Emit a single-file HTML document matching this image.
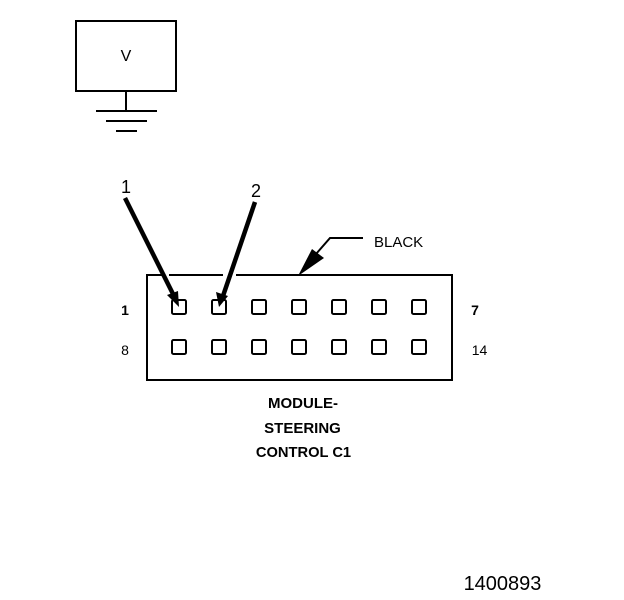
<!DOCTYPE html>
<html>
<head>
<meta charset="utf-8">
<style>
html,body{margin:0;padding:0;background:#fff;}
svg{display:block;}
text{font-family:"Liberation Sans",sans-serif;fill:#000;}
</style>
</head>
<body>
<svg width="624" height="600" viewBox="0 0 624 600" xmlns="http://www.w3.org/2000/svg">
<rect width="624" height="600" fill="#fff"/>
<g fill="none" stroke="#000" stroke-width="2" shape-rendering="crispEdges">
<rect x="76" y="21" width="100" height="70"/>
<line x1="126" y1="91" x2="126" y2="111"/>
<line x1="96" y1="111" x2="157" y2="111"/>
<line x1="106" y1="121" x2="147" y2="121"/>
<line x1="116" y1="131" x2="137" y2="131"/>
<path d="M165 275H146M147 275V380M146 380H453M452 381V274M453 275H236M223 275H169"/>
</g>
<g fill="#fff" stroke="#000" stroke-width="2">
<rect x="172" y="300" width="14" height="14" rx="1.5"/>
<rect x="212" y="300" width="14" height="14" rx="1.5"/>
<rect x="252" y="300" width="14" height="14" rx="1.5"/>
<rect x="292" y="300" width="14" height="14" rx="1.5"/>
<rect x="332" y="300" width="14" height="14" rx="1.5"/>
<rect x="372" y="300" width="14" height="14" rx="1.5"/>
<rect x="412" y="300" width="14" height="14" rx="1.5"/>
<rect x="172" y="340" width="14" height="14" rx="1.5"/>
<rect x="212" y="340" width="14" height="14" rx="1.5"/>
<rect x="252" y="340" width="14" height="14" rx="1.5"/>
<rect x="292" y="340" width="14" height="14" rx="1.5"/>
<rect x="332" y="340" width="14" height="14" rx="1.5"/>
<rect x="372" y="340" width="14" height="14" rx="1.5"/>
<rect x="412" y="340" width="14" height="14" rx="1.5"/>
</g>
<g stroke="#000" fill="none">
<line x1="125" y1="198" x2="175" y2="298" stroke-width="4.5"/>
<line x1="255" y1="202" x2="223" y2="296" stroke-width="4.5"/>
<polyline points="363,238 330,238 316,254" stroke-width="2"/>
</g>
<g fill="#000">
<polygon points="179,307 167,295 178,291"/>
<polygon points="219,307 216,292 228,296"/>
<polygon points="298,276 312,249 324,258"/>
</g>
<text x="126" y="61" font-size="16" text-anchor="middle">V</text>
<text x="126" y="193" font-size="18" text-anchor="middle">1</text>
<text x="256" y="197" font-size="18" text-anchor="middle">2</text>
<text x="374" y="247" font-size="15">BLACK</text>
<text x="125" y="315" font-size="14" font-weight="bold" text-anchor="middle">1</text>
<text x="125" y="355" font-size="14" text-anchor="middle">8</text>
<text x="475" y="315" font-size="14" font-weight="bold" text-anchor="middle">7</text>
<text x="479.5" y="355" font-size="14" text-anchor="middle">14</text>
<text x="303" y="408" font-size="15" font-weight="bold" text-anchor="middle">MODULE-</text>
<text x="302.5" y="433" font-size="15" font-weight="bold" text-anchor="middle">STEERING</text>
<text x="303.5" y="457" font-size="14.7" font-weight="bold" text-anchor="middle">CONTROL C1</text>
<text x="502.5" y="590" font-size="20" text-anchor="middle">1400893</text>
</svg>
</body>
</html>
